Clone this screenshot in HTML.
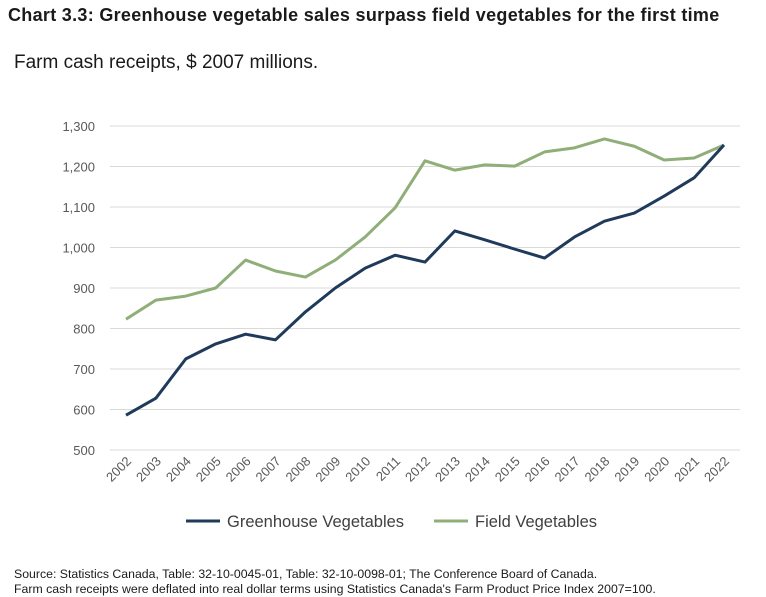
<!DOCTYPE html>
<html><head><meta charset="utf-8"><style>
body{margin:0;background:#fff;width:766px;height:597px;overflow:hidden;font-family:"Liberation Sans",sans-serif;}
#title{position:absolute;left:8px;top:5px;font-size:18px;font-weight:bold;color:#1a1a1a;white-space:nowrap;letter-spacing:0.3px;}
#sub{position:absolute;left:14px;top:52px;font-size:19px;color:#1a1a1a;}
#src{position:absolute;left:14px;top:567px;font-size:12.3px;color:#1a1a1a;line-height:15px;white-space:nowrap;}
svg{position:absolute;left:0;top:0;}
</style></head><body>
<div id="title">Chart 3.3: Greenhouse vegetable sales surpass field vegetables for the first time</div>
<div id="sub">Farm cash receipts, $ 2007 millions.</div>
<svg id="chart" width="766" height="597"></svg>
<div id="src">Source: Statistics Canada, Table: 32-10-0045-01, Table: 32-10-0098-01; The Conference Board of Canada.<br>Farm cash receipts were deflated into real dollar terms using Statistics Canada's Farm Product Price Index 2007=100.</div>
<script>
const years=["2002","2003","2004","2005","2006","2007","2008","2009","2010","2011","2012","2013","2014","2015","2016","2017","2018","2019","2020","2021","2022"];
const greenhouse=[586,628,725,762,786,772,841,900,949,981,964,1041,1019,996,974,1026,1065,1085,1127,1172,1253];
const field=[823,870,880,900,969,942,927,969,1026,1098,1214,1191,1204,1201,1236,1246,1268,1250,1216,1221,1253];
const yTicks=[500,600,700,800,900,1000,1100,1200,1300];
const yTickLabels=["500","600","700","800","900","1,000","1,100","1,200","1,300"];
const NS="http://www.w3.org/2000/svg";
const svg=document.getElementById('chart');
const x=i=>126+i*(724-126)/(years.length-1);
const y=v=>450-(v-500)*(324/800);
function mk(t,a){const e=document.createElementNS(NS,t);for(const k in a)e.setAttribute(k,a[k]);svg.appendChild(e);return e;}
yTicks.forEach((v,i)=>{
 const g=mk('line',{x1:110,x2:740,y1:y(v),y2:y(v),stroke:'#d9d9d9','stroke-width':1});
 
 
 const t=mk('text',{x:95,y:y(v)+5,'text-anchor':'end','font-size':13,fill:'#595959','font-family':'Liberation Sans, sans-serif'});
 t.textContent=yTickLabels[i];
 
 
});
years.forEach((yr,i)=>{
 const t=mk('text',{x:x(i)+6,y:462,'text-anchor':'end','font-size':13,fill:'#595959','font-family':'Liberation Sans, sans-serif',transform:`rotate(-45 ${x(i)+6} 462)`});
 t.textContent=yr;
 
 
});
function series(d,c,n){
 const p=mk('polyline',{points:d.map((v,i)=>x(i)+','+y(v)).join(' '),fill:'none',stroke:c,'stroke-width':3,'stroke-linejoin':'round'});
 
 
}
series(field,'#8fae78','field-vegetables-line');
series(greenhouse,'#1f3a5a','greenhouse-vegetables-line');
function legend(x0,c,label,n){
 const l=mk('line',{x1:x0,x2:x0+34,y1:521,y2:521,stroke:c,'stroke-width':3});
 
 
 const t=mk('text',{x:x0+41,y:527,'font-size':16.5,fill:'#404040','font-family':'Liberation Sans, sans-serif'});
 t.textContent=label;
 
 
}
legend(186,'#1f3a5a','Greenhouse Vegetables','legend-greenhouse');
legend(434,'#8fae78','Field Vegetables','legend-field');
</script>
</body></html>
